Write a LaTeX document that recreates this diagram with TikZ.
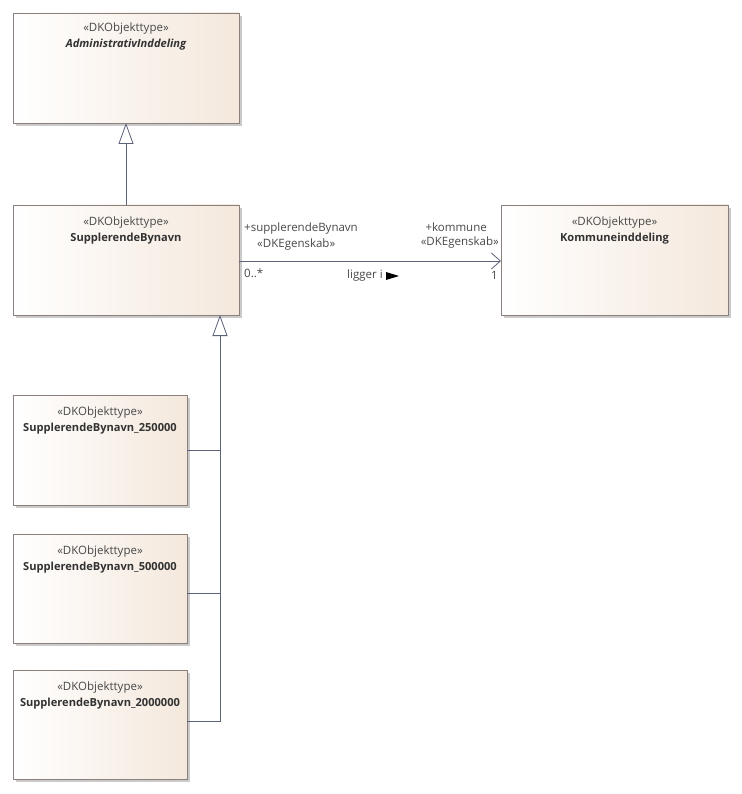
\documentclass[tikz,border=0pt]{standalone}
\usepackage{fontspec}
\setmainfont{Open Sans}
\usetikzlibrary{arrows.meta,shadows}
\definecolor{boxfill}{RGB}{244,232,220}
\definecolor{boxline}{RGB}{140,128,124}
\definecolor{edgeline}{RGB}{92,98,122}
\definecolor{txtgray}{RGB}{72,72,72}
\definecolor{txtdark}{RGB}{50,50,50}
\tikzset{
  classbox/.style={rectangle, draw=boxline, line width=0.8pt,
    left color=white, right color=boxfill, anchor=north west,
    inner sep=0pt, outer sep=0pt,
    drop shadow={shadow xshift=3pt, shadow yshift=-3pt, fill=black!35, opacity=0.6}},
  stereo/.style={font=\fontsize{11.5}{13}\selectfont, text=txtgray, inner sep=0pt},
  cname/.style={font=\fontsize{11.1}{13}\selectfont\bfseries, text=txtdark, inner sep=0pt},
  elabel/.style={font=\fontsize{11.5}{13}\selectfont, text=txtgray, inner sep=0pt},
  gen/.style={draw=edgeline, line width=0.8pt,
    -{Triangle[open, length=21pt, width=15pt, fill=white]}},
  assoc/.style={draw=edgeline, line width=0.8pt,
    -{Straight Barb[length=9pt, width=16pt, line width=0.8pt]}},
  plain/.style={draw=edgeline, line width=0.8pt}
}
\begin{document}
\begin{tikzpicture}[x=1pt,y=-1pt]
\useasboundingbox (0,0) rectangle (741,794);

% class boxes
\node[classbox, minimum width=226pt, minimum height=110pt] (adm) at (13,13) {};
\node[classbox, minimum width=226pt, minimum height=110pt] (sup) at (13,205) {};
\node[classbox, minimum width=227pt, minimum height=110pt] (kom) at (501,205) {};
\node[classbox, minimum width=174pt, minimum height=110pt] (s250) at (13,395) {};
\node[classbox, minimum width=174pt, minimum height=109pt] (s500) at (13,534) {};
\node[classbox, minimum width=174pt, minimum height=109pt] (s2000) at (13,670) {};

% stereotypes and class names
\node[stereo] (admst) at ([yshift=-16pt]adm.north) {«DKObjekttype»};
\node[cname, font=\fontsize{11.1}{13}\selectfont\bfseries\itshape] (admnm) at ([yshift=-32pt]adm.north) {AdministrativInddeling};
\node[stereo] (supst) at ([yshift=-17.5pt]sup.north) {«DKObjekttype»};
\node[cname] (supnm) at ([yshift=-34pt]sup.north) {SupplerendeBynavn};
\node[stereo] (komst) at ([yshift=-17.5pt]kom.north) {«DKObjekttype»};
\node[cname] (komnm) at ([yshift=-34pt]kom.north) {Kommuneinddeling};
\node[stereo] (s250st) at ([yshift=-17.5pt]s250.north) {«DKObjekttype»};
\node[cname] (s250nm) at ([yshift=-34pt]s250.north) {SupplerendeBynavn\_250000};
\node[stereo] (s500st) at ([yshift=-17.5pt]s500.north) {«DKObjekttype»};
\node[cname] (s500nm) at ([yshift=-34pt]s500.north) {SupplerendeBynavn\_500000};
\node[stereo] (s2000st) at ([yshift=-17.5pt]s2000.north) {«DKObjekttype»};
\node[cname] (s2000nm) at ([yshift=-34pt]s2000.north) {SupplerendeBynavn\_2000000};

% generalisation SupplerendeBynavn -> AdministrativInddeling
\draw[gen] (sup.north) -- (adm.south);

% generalisation of the three scale variants into one trunk
\coordinate (trunk) at (220,315);
\draw[gen] ([yshift=3.5pt]s2000.east) -| (trunk);
\draw[plain] (s250.east) -- (s250.east -| trunk);
\draw[plain] ([yshift=-5pt]s500.east) -- ([yshift=-5pt]s500.east -| trunk);

% association "ligger i"
\draw[assoc] ([yshift=-1pt]sup.east) -- ([yshift=-1pt]kom.west);
\node[elabel, anchor=west] (srcrole) at (244,229) {+supplerendeBynavn};
\node[elabel, anchor=west] (srcst) at (257,245) {«DKEgenskab»};
\node[elabel, anchor=west] (srcmul) at (244,273) {0..*};
\node[elabel, anchor=east] (tgtrole) at (487,227) {+kommune};
\node[elabel, anchor=east] (tgtst) at (499,243) {«DKEgenskab»};
\node[elabel, anchor=east] (tgtmul) at (498,275) {1};
\node[elabel, anchor=west] (assocname) at (347,276) {ligger i};
\fill[black] (386,272) -- (399,276) -- (386,280) -- cycle;
\end{tikzpicture}
\end{document}
